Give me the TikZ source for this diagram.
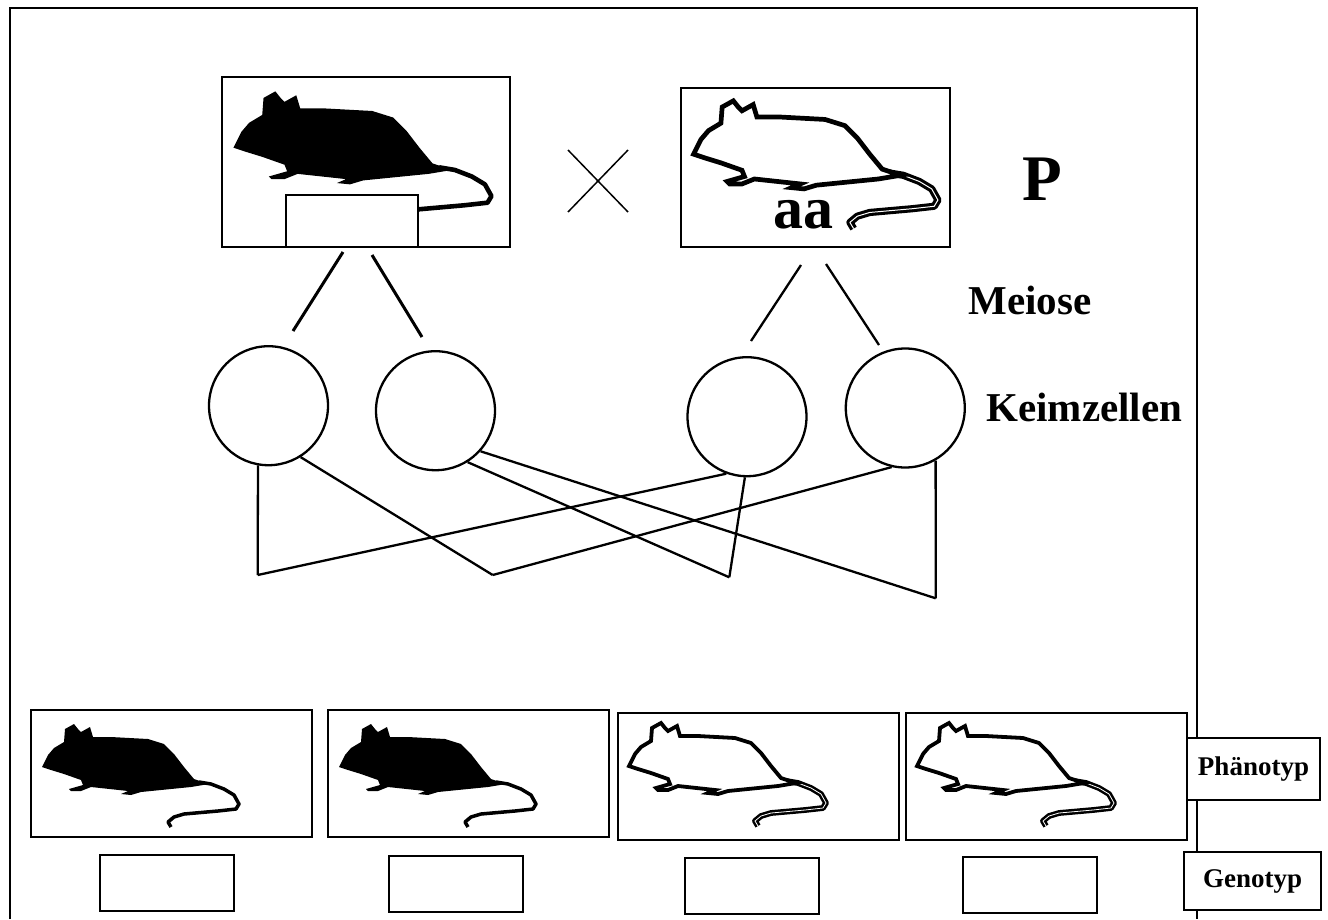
\documentclass[tikz,border=0pt]{standalone}
\usepackage{fontspec}
\setmainfont{Liberation Serif}

% Maus: Koerper und Schwanz
\newcommand{\mausleib}{(11,57) -- (17,45) -- (23,38) -- (33,32) -- (34,19) -- (43,14) -- (47,19) -- (50,22) -- (59,17) -- (62,27) -- (80,27) -- (117,29) -- (133,34) -- (143,44) -- (153,57) -- (163,69) -- (178,74) -- (160,77) -- (140,79) -- (110,82) -- (100,85) -- (90,84) -- (97,81) -- (60,77) -- (50,81) -- (40,81) -- (38,79) -- (45,77) -- (52,75) -- (50,70) -- (33,64) -- (20,60) -- cycle}
\newcommand{\mausschwanz}{(168,72) -- (180,74) -- (193,79) -- (203,85) -- (208,94) -- (205,99) -- (187,101) -- (153,104) -- (143,107) -- (137,112) -- (140,117)}
\newcommand{\schwarzmaus}[2]{\begin{scope}[shift={#1},scale=#2]
  \draw[line width=#2*3.5pt,line join=round] \mausschwanz;
  \fill \mausleib;
\end{scope}}
\newcommand{\weissmaus}[2]{\begin{scope}[shift={#1},scale=#2]
  \draw[line width=#2*2.5pt,double=white,double distance=#2*0.8pt,line join=round] \mausschwanz;
  \filldraw[fill=white,line width=#2*3.8pt] \mausleib;
\end{scope}}

\tikzset{
  kasten/.style={draw,rectangle,fill=white,inner sep=0pt,line width=2pt},
  zelle/.style={draw,circle,minimum size=119pt,inner sep=0pt,line width=2.3pt},
  titel/.style={anchor=base west,font=\bfseries\fontsize{#1}{#1}\selectfont}
}

\begin{document}
\begin{tikzpicture}[x=1pt,y=-1pt,line width=2.3pt]
        \useasboundingbox (0,0) rectangle (1328,919);
        \draw[line width=2pt] (10,919) -- (10,8) -- (1197,8) -- (1197,919);
        % Elterngeneration
        \node[kasten,minimum width=288pt,minimum height=170pt] (pa) at (366,162) {};
        \schwarzmaus{(219,73)}{1.31}
        \node[kasten,minimum width=132pt,minimum height=52pt] (ga) at (352,221) {};
        \node[kasten,minimum width=269pt,minimum height=159pt] (pb) at (815.5,167.5) {};
        \weissmaus{(680,83.5)}{1.24}
        \node[anchor=base,font=\bfseries\fontsize{60}{60}\selectfont,inner sep=0pt] (aa) at (803,228) {aa};
        \draw[line width=1.5pt] (568,150) -- (628,212);
        \draw[line width=1.5pt] (568,212) -- (628,150);
        \node[titel=65] (p) at (1018,200) {P};
        \node[titel=41] (meiose) at (964,314) {Meiose};
        \node[titel=41] (keim) at (982,421) {Keimzellen};
        % Keimzellen
        \begin{scope}[every node/.style={zelle}]
          \node (k1) at (268.5,405.7) {};
          \node (k2) at (435.5,410.7) {};
          \node (k3) at (747,416.7) {};
          \node (k4) at (905.3,408) {};
        \end{scope}
        \coordinate (ma1) at (343,252);
        \coordinate (ma2) at (293,331);
        \coordinate (mb1) at (372,255);
        \coordinate (mb2) at (422,337);
        \coordinate (mc1) at (801,265);
        \coordinate (mc2) at (751,341);
        \coordinate (md1) at (826,264);
        \coordinate (md2) at (879,345);
        \draw[line width=3pt] (ma1) -- (ma2);
        \draw[line width=3pt] (mb1) -- (mb2);
        \draw (mc1) -- (mc2);
        \draw (md1) -- (md2);
        % Kombinationen
        \coordinate (j1) at (257.7,575);
        \coordinate (j2) at (492.7,575);
        \coordinate (j3) at (729.3,577.3);
        \coordinate (j4) at (935.7,598.3);
        \begin{scope}[every edge/.style={draw=black,line width=2.3pt}]
          \path (k1.-100) edge (j1);
          \path (j1) edge (k3.-110);
          \path (k1.-58) edge (j2);
          \path (j2) edge (k4.-103);
          \path (k2.-58) edge (j3);
          \path (j3) edge (k3.-92);
          \path (k2.-42) edge (j4);
          \path (j4) edge (k4.-60);
        \end{scope}
        % Nachkommen
        \begin{scope}[every node/.style={kasten,minimum width=281pt,minimum height=127pt}]
          \node (f1) at (171.5,773.5) {};
          \node (f2) at (468,773.5) {};
          \node (f3) at (758,776) {};
          \node (f4) at (1046.5,776) {};
        \end{scope}
        \schwarzmaus{(31,710)}{1}
        \schwarzmaus{(328,710)}{1}
        \weissmaus{(618,709)}{1}
        \weissmaus{(906,709)}{1}
        \begin{scope}[every node/.style={kasten,minimum width=134pt,minimum height=56pt}]
          \node (g1) at (167,883) {};
          \node (g2) at (455.5,884) {};
          \node (g3) at (752,885.5) {};
          \node (g4) at (1029.5,885) {};
        \end{scope}
        \node[kasten,minimum width=133pt,minimum height=62pt,font=\bfseries\fontsize{27}{27}\selectfont] (phae) at (1253.5,769) {Phänotyp};
        \node[kasten,minimum width=137pt,minimum height=58pt,font=\bfseries\fontsize{27}{27}\selectfont] (geno) at (1252.5,881) {Genotyp};
      \end{tikzpicture}
\end{document}
